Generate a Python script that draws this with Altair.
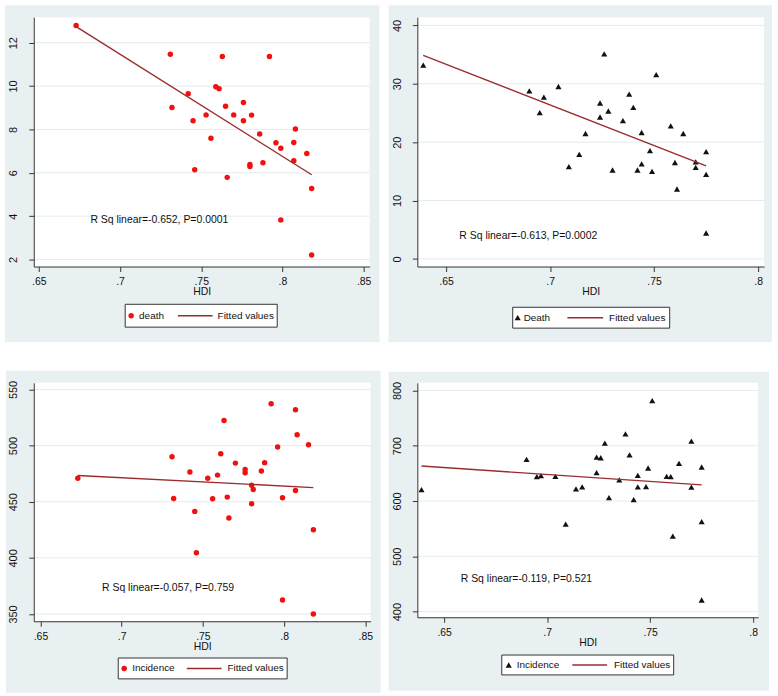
import altair as alt
import pandas as pd

# HDI of the countries in the first group (left-hand panels)
hdi_a = [0.673, 0.731, 0.732, 0.742, 0.745, 0.746, 0.753, 0.756, 0.759, 0.761,
         0.763, 0.765, 0.766, 0.770, 0.776, 0.776, 0.780, 0.780, 0.781, 0.786,
         0.788, 0.792, 0.796, 0.799, 0.799, 0.807, 0.807, 0.808, 0.815, 0.818, 0.818]
death_a = [12.79, 11.47, 9.01, 9.65, 8.40, 6.14, 8.67, 7.59, 9.97, 9.88,
           11.36, 9.07, 5.79, 8.67, 9.24, 8.40, 6.38, 6.29, 8.66, 7.79,
           6.46, 11.36, 7.39, 7.13, 3.83, 7.40, 6.56, 8.02, 6.89, 5.28, 2.21]
incidence_a = [470.9, 490.1, 452.9, 476.5, 441.4, 404.6, 470.9, 452.7, 473.7, 492.8,
               522.3, 454.1, 435.5, 484.4, 478.8, 475.8, 464.7, 448.2, 460.9, 477.4,
               484.8, 537.3, 498.7, 453.5, 362.4, 532.0, 460.0, 509.6, 500.7, 425.0, 350.0]

# HDI of the countries in the second group (right-hand panels)
hdi_b = [0.639, 0.690, 0.695, 0.697, 0.704, 0.709, 0.714, 0.717, 0.724, 0.724,
         0.726, 0.728, 0.730, 0.735, 0.738, 0.740, 0.742, 0.744, 0.744, 0.748,
         0.749, 0.751, 0.758, 0.760, 0.761, 0.764, 0.770, 0.770, 0.775, 0.775, 0.775]
death_b = [33.19, 28.77, 25.04, 27.70, 29.53, 15.80, 17.90, 21.48, 26.70, 24.31,
           35.12, 25.33, 15.23, 23.69, 28.23, 25.96, 15.23, 21.65, 16.28, 18.55,
           14.98, 31.55, 22.78, 16.51, 11.97, 21.48, 16.62, 15.66, 18.38, 14.47, 4.43]
incidence_b = [620.7, 675.3, 644.1, 645.9, 644.7, 558.4, 621.9, 625.5, 679.5, 651.3,
               678.3, 704.6, 606.3, 638.1, 721.4, 683.6, 602.7, 646.5, 625.5, 626.1,
               659.7, 781.4, 644.7, 644.1, 536.7, 668.1, 708.4, 625.1, 661.5, 562.6, 421.0]

x_ticks_a = [0.65, 0.70, 0.75, 0.80, 0.85]
x_ticks_b = [0.65, 0.70, 0.75, 0.80]
y_ticks = {
    "death_a": [2, 4, 6, 8, 10, 12],
    "death_b": [0, 10, 20, 30, 40],
    "inc_a": [350, 400, 450, 500, 550],
    "inc_b": [400, 500, 600, 700, 800],
}

series_labels = ["death", "Death", "Incidence", "Incidence"]
notes = ["R Sq linear=-0.652, P=0.0001", "R Sq linear=-0.613, P=0.0002",
         "R Sq linear=-0.057, P=0.759", "R Sq linear=-0.119, P=0.521"]

# Styling
FONT = "Liberation Sans, Arial, Helvetica, sans-serif"
TEXT_SIZE = 10.5
KEY_SIZE = 10
REGION = "#e9f0f2"
GRID = "#e4ecef"
AXIS = "#333333"
RED = "#f01010"
BLACK = "#111111"
FIT = "#9a2c2c"
CELL_W, CELL_H = 389, 348

layout = [
    dict(hdi=hdi_a, val=death_a, yt=y_ticks["death_a"], xt=x_ticks_a, shape="circle", color=RED,
         size=30, cell=(0, 0), plot=(32, 15, 338, 251), region=(3, 3, 380, 342),
         xdom=[0.64694, 0.85367], ydom=[1.679, 13.177], note_at=(0.6818, 3.832),
         legend=dict(box=(124, 304, 277, 327), mark=130, label=138, line=(177, 212), fit=217)),
    dict(hdi=hdi_b, val=death_b, yt=y_ticks["death_b"], xt=x_ticks_b, shape="triangle-up", color=BLACK,
         size=38, cell=(389, 0), plot=(415, 15, 349, 251), region=(386, 3, 772, 342),
         xdom=[0.63615, 0.80287], ydom=[-1.311, 41.413], note_at=(0.65636, 3.966),
         legend=dict(box=(511, 307, 669, 328), mark=516, label=522, line=(566, 602), fit=608)),
    dict(hdi=hdi_a, val=incidence_a, yt=y_ticks["inc_a"], xt=x_ticks_a, shape="circle", color=RED,
         size=30, cell=(0, 348), plot=(34, 379, 339, 240), region=(6, 367, 383, 691),
         xdom=[0.64590, 0.85324], ydom=[343.54, 555.93], note_at=(0.68792, 372.7),
         legend=dict(box=(119, 656, 289, 677), mark=125, label=133, line=(188, 223), fit=229)),
    dict(hdi=hdi_b, val=incidence_b, yt=y_ticks["inc_b"], xt=x_ticks_b, shape="triangle-up", color=BLACK,
         size=38, cell=(389, 348), plot=(418, 383, 343, 236), region=(389, 372, 772, 693),
         xdom=[0.63698, 0.80241], ydom=[389.76, 813.83], note_at=(0.65806, 458.6),
         legend=dict(box=(503, 657, 676, 677), mark=510, label=518, line=(574, 609), fit=616)),
]

one = pd.DataFrame({"k": [0]})


def deco_rect(x1, y1, x2, y2, **style):
    return alt.Chart(one).mark_rect(**style).encode(
        x=alt.value(x1), x2=alt.value(x2), y=alt.value(y1), y2=alt.value(y2))


def deco_text(x, y, text, **style):
    return alt.Chart(one).mark_text(align="left", baseline="middle", font=FONT,
                                    fontSize=KEY_SIZE, color="#111", **style).encode(
        x=alt.value(x), y=alt.value(y), text=alt.value(text))


def panel(p, label, note):
    px, py, w, h = p["plot"]
    cx, cy = p["cell"]
    ox, oy = px - cx, py - cy
    df = pd.DataFrame({"hdi": p["hdi"], "val": p["val"]})

    xsc = alt.Scale(domain=p["xdom"], nice=False, zero=False)
    ysc = alt.Scale(domain=p["ydom"], nice=False, zero=False)
    xax = alt.Axis(values=p["xt"], title="HDI", grid=False, tickSize=5, tickColor=AXIS,
                   domainColor=AXIS, labelFont=FONT, labelFontSize=TEXT_SIZE, labelColor="#111",
                   labelPadding=13, labelBaseline="alphabetic", labelFlush=False,
                   labelOverlap=False, titleFont=FONT, titleFontSize=TEXT_SIZE,
                   titleFontWeight="normal", titleColor="#111", titleY=28,
                   titleBaseline="alphabetic", zindex=1,
                   labelExpr="replace(format(datum.value, '.2~f'), '0.', '.')")
    yax = alt.Axis(values=p["yt"], title=None, grid=False, tickSize=5, tickColor=AXIS,
                   domainColor=AXIS, labelFont=FONT, labelFontSize=11, labelColor="#111",
                   labelAngle=270, labelAlign="center", labelBaseline="alphabetic",
                   labelPadding=12, labelOverlap=False, format="d", zindex=1)

    frame = deco_rect(-ox, -oy, CELL_W - ox, CELL_H - oy, fill="white")
    rx1, ry1, rx2, ry2 = p["region"]
    region = deco_rect(rx1 - px, ry1 - py, rx2 - px, ry2 - py, fill=REGION)
    plot_bg = deco_rect(0, 0, w, h, fill="white")

    grid = alt.Chart(pd.DataFrame({"val": p["yt"]})).mark_rule(
        color=GRID, strokeWidth=1).encode(
        y=alt.Y("val:Q", scale=ysc, axis=yax), x=alt.value(0), x2=alt.value(w))

    pts = alt.Chart(df).mark_point(shape=p["shape"], filled=True, opacity=1,
                                   size=p["size"], color=p["color"]).encode(
        x=alt.X("hdi:Q", scale=xsc, axis=xax), y=alt.Y("val:Q", scale=ysc, axis=yax))

    fit = alt.Chart(df).transform_regression("hdi", "val").mark_line(
        color=FIT, strokeWidth=1.4).encode(
        x=alt.X("hdi:Q", scale=xsc, axis=xax), y=alt.Y("val:Q", scale=ysc, axis=yax))

    nx, ny = p["note_at"]
    note_layer = alt.Chart(pd.DataFrame({"hdi": [nx], "val": [ny], "t": [note]})).mark_text(
        align="left", baseline="middle", font=FONT, fontSize=TEXT_SIZE, color="#111").encode(
        x=alt.X("hdi:Q", scale=xsc, axis=xax), y=alt.Y("val:Q", scale=ysc, axis=yax),
        text="t:N")

    lg = p["legend"]
    bx1, by1, bx2, by2 = lg["box"]
    lcy = (by1 + by2) / 2 - py
    box = deco_rect(bx1 - px, by1 - py, bx2 - px, by2 - py, fill="white",
                    stroke=AXIS, strokeWidth=1)
    key_mark = alt.Chart(one).mark_point(shape=p["shape"], filled=True, opacity=1,
                                         size=p["size"], color=p["color"]).encode(
        x=alt.value(lg["mark"] - px), y=alt.value(lcy))
    key_label = deco_text(lg["label"] - px, lcy, label)
    key_line = alt.Chart(one).mark_rule(color=FIT, strokeWidth=1.4).encode(
        x=alt.value(lg["line"][0] - px), x2=alt.value(lg["line"][1] - px), y=alt.value(lcy))
    key_fit = deco_text(lg["fit"] - px, lcy, "Fitted values")

    return alt.layer(frame, region, plot_bg, grid, pts, fit, note_layer,
                     box, key_mark, key_label, key_line, key_fit).properties(width=w, height=h)


charts = [panel(p, lab, n) for p, lab, n in zip(layout, series_labels, notes)]

chart = alt.concat(*charts, columns=2, spacing=0).properties(
    padding=0, background="white"
).configure_view(stroke=None).configure_concat(spacing=0)

chart.save("out.html", embed_options={"renderer": "svg", "actions": False})
